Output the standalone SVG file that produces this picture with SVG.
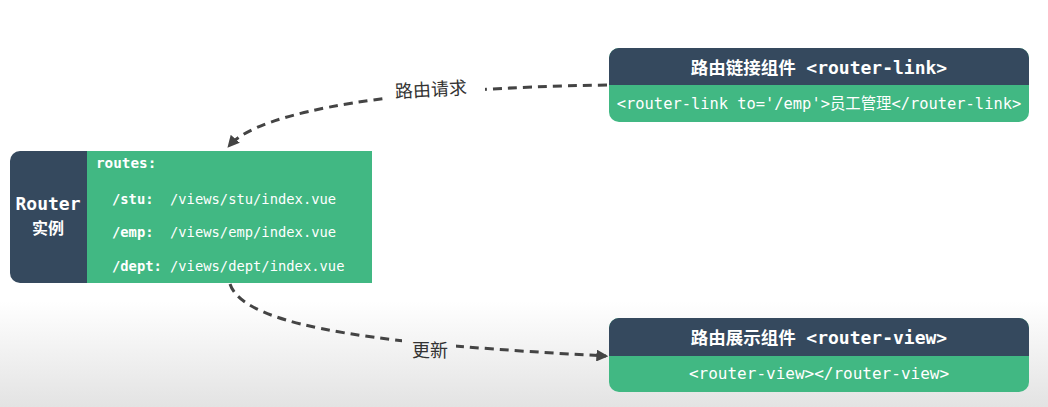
<svg xmlns="http://www.w3.org/2000/svg" width="1048" height="407" viewBox="0 0 1048 407">
<style>
.dark{fill:#35495e}
.green{fill:#41b883}
.mono{font-family:"DejaVu Sans Mono","Liberation Mono","Noto Sans CJK SC",monospace;fill:#fff}
.b{font-weight:bold}
.hdr{font-family:"DejaVu Sans Mono","Noto Sans CJK SC",monospace;font-weight:bold;fill:#fff;font-size:17.5px}
.lbl{font-family:"Noto Sans CJK SC","Noto Sans",sans-serif;fill:#333;font-size:18px}
.edge{fill:none;stroke:#444;stroke-width:3;stroke-dasharray:9 6}
</style>
<defs>
<linearGradient id="bg" x1="0" y1="0" x2="0" y2="1">
<stop offset="0" stop-color="#ffffff"/>
<stop offset="0.74" stop-color="#ffffff"/>
<stop offset="1" stop-color="#e3e3e3"/>
</linearGradient>
<marker id="arr" viewBox="0 0 10 10" refX="8" refY="5" markerWidth="4" markerHeight="4" orient="auto" markerUnits="strokeWidth">
<path d="M0,0 L10,5 L0,10 Z" fill="#444"/>
</marker>
<mask id="m1">
<rect x="0" y="0" width="1048" height="407" fill="#fff"/>
<rect x="385" y="70" width="100" height="40" fill="#000"/>
<rect x="402" y="332" width="54" height="32" fill="#000"/>
</mask>
<clipPath id="rl"><rect x="10" y="151" width="100" height="132" rx="10"/></clipPath>
</defs>
<rect x="0" y="0" width="1048" height="407" fill="url(#bg)"/>

<g id="connectors">
<g mask="url(#m1)">
<path class="edge" d="M607 85 C400 88 260 110 229 146" marker-end="url(#arr)"/>
<path class="edge" d="M230 284 C245 330 400 345 606 356" marker-end="url(#arr)"/>
</g>
<text class="lbl" x="431" y="96" text-anchor="middle" transform="rotate(-3 431 90)">路由请求</text>
<text class="lbl" x="430" y="357" text-anchor="middle">更新</text>
</g>

<g id="router">
<rect class="dark" x="10" y="151" width="100" height="132" clip-path="url(#rl)"/>
<rect class="green" x="87" y="151" width="285" height="132"/>
<text class="mono b" x="48" y="210" font-size="18" text-anchor="middle">Router</text>
<text class="mono b" x="48" y="234" font-size="16" text-anchor="middle" style="font-family:'Noto Sans CJK SC',sans-serif">实例</text>
<text class="mono b" x="96" y="168" font-size="14.3">routes:</text>
<text class="mono" x="112" y="204" font-size="13.8"><tspan class="b">/stu:</tspan></text>
<text class="mono" x="170" y="204" font-size="13.8">/views/stu/index.vue</text>
<text class="mono" x="112" y="237" font-size="13.8"><tspan class="b">/emp:</tspan></text>
<text class="mono" x="170" y="237" font-size="13.8">/views/emp/index.vue</text>
<text class="mono" x="112" y="271" font-size="13.8"><tspan class="b">/dept:</tspan></text>
<text class="mono" x="170" y="271" font-size="13.8">/views/dept/index.vue</text>
</g>

<g id="router-link">
<rect class="green" x="609" y="48" width="420" height="74" rx="10"/>
<path class="dark" d="M609 85 V58 A10 10 0 0 1 619 48 H1019 A10 10 0 0 1 1029 58 V85 Z"/>
<text class="hdr" x="819" y="74" text-anchor="middle">路由链接组件 <tspan font-size="18">&lt;router-link&gt;</tspan></text>
<text class="mono" x="819" y="109" font-size="15.4" text-anchor="middle">&lt;router-link to='/emp'&gt;员工管理&lt;/router-link&gt;</text>
</g>

<g id="router-view">
<rect class="green" x="609" y="318" width="420" height="74" rx="10"/>
<path class="dark" d="M609 356 V328 A10 10 0 0 1 619 318 H1019 A10 10 0 0 1 1029 328 V356 Z"/>
<text class="hdr" x="819" y="344" text-anchor="middle">路由展示组件 <tspan font-size="18">&lt;router-view&gt;</tspan></text>
<text class="mono" x="819" y="379" font-size="16" text-anchor="middle">&lt;router-view&gt;&lt;/router-view&gt;</text>
</g>
</svg>
